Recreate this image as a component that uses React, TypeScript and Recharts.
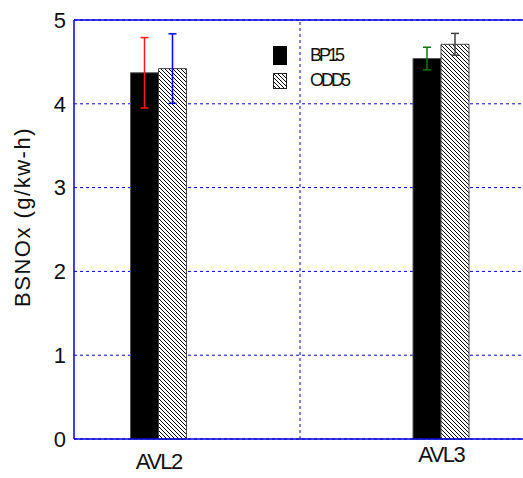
import React from 'react';
import { ComposedChart, XAxis, YAxis, Bar, ErrorBar, CartesianGrid, ReferenceLine, Legend } from 'recharts';

const categories = ['AVL2', 'AVL3'];
const bp15 = [4.37, 4.54];
const odd5 = [4.42, 4.71];
const bp15Err = [0.42, 0.135];
const odd5Err = [0.415, 0.13];
const yTicks = [0, 1, 2, 3, 4, 5];

const bp15ErrColors = ['#ff1a1a', '#0a7a0a'];
const odd5ErrColors = ['#0000ff', '#404040'];

const FONT = '"Liberation Sans", Arial, sans-serif';
const AXIS_BLUE = '#0000dd';

// one error key per category so each can get its own colour
const data = categories.map((name, i) => {
  const row: any = { x: i, name, bp15: bp15[i], odd5: odd5[i] };
  categories.forEach((_, j) => {
    row[`bpErr${j}`] = i === j ? bp15Err[i] : null;
    row[`oddErr${j}`] = i === j ? odd5Err[i] : null;
  });
  return row;
});

const XTick = (props: any) => {
  const { x, y, payload, index } = props;
  // AVL3 sits a bit higher than AVL2 in the original
  const dy = index === 0 ? 22 : 15;
  return (
    <text x={x} y={y + dy} textAnchor="middle" fontFamily={FONT} fontSize={22} letterSpacing={-1.5} fill="#111">
      {categories[payload.value]}
    </text>
  );
};

const LegendBox = () => (
  <div style={{ fontFamily: FONT }}>
    <div style={{ display: 'flex', alignItems: 'center', height: 25 }}>
      <svg width={14} height={19} style={{ display: 'block' }}>
        <rect x={0} y={0} width={14} height={19} fill="#000" />
      </svg>
      <span style={{ marginLeft: 23, fontSize: 18, letterSpacing: -3, color: '#111' }}>BP15</span>
    </div>
    <div style={{ display: 'flex', alignItems: 'center', height: 25 }}>
      <svg width={14} height={16} style={{ display: 'block' }}>
        <rect x={0.5} y={0.5} width={13} height={15} fill="url(#hatch)" stroke="#222" />
      </svg>
      <span style={{ marginLeft: 23, fontSize: 18, letterSpacing: -3, color: '#111' }}>ODD5</span>
    </div>
  </div>
);

const YLabel = () => (
  <text x={22} y={217} transform="rotate(-90 22 217)" textAnchor="middle" dominantBaseline="central"
    fontFamily={FONT} fontSize={22} letterSpacing={1.5} fill="#111">
    BSNOx (g/kw-h)
  </text>
);

export default function App() {
  return (
    <div style={{ position: 'absolute', left: 0, top: 0, width: 523, height: 478, overflow: 'hidden', background: '#fff' }}>
      <ComposedChart width={526} height={478} data={data} margin={{ top: 20, right: 0, bottom: 9, left: 0 }} barGap={0}>
        <defs>
          <pattern id="hatch" patternUnits="userSpaceOnUse" width={4} height={4}>
            <rect width={4} height={4} fill="#fff" />
            <path d="M0,0 L4,4 M-1,3 L1,5 M3,-1 L5,1" stroke="#000" strokeWidth={1} />
          </pattern>
        </defs>
        <CartesianGrid vertical={false} stroke={AXIS_BLUE} strokeDasharray="3 3" />
        <XAxis
          type="number"
          dataKey="x"
          domain={[-0.3, 1.3]}
          ticks={[0, 1]}
          tick={<XTick />}
          tickLine={false}
          axisLine={{ stroke: AXIS_BLUE, strokeWidth: 1.5 }}
          height={30}
          allowDecimals={false}
        />
        <YAxis
          type="number"
          domain={[0, 5]}
          ticks={yTicks}
          width={74}
          tickLine={false}
          axisLine={{ stroke: AXIS_BLUE, strokeWidth: 1.5 }}
          tick={{ fontFamily: FONT, fontSize: 22, fill: '#111' }}
          label={<YLabel />}
        />
        <ReferenceLine y={5} stroke={AXIS_BLUE} strokeWidth={1.5} />
        <ReferenceLine x={0.5} stroke={AXIS_BLUE} strokeDasharray="3 3" />
        <Legend
          layout="vertical"
          align="center"
          verticalAlign="middle"
          content={<LegendBox />}
          wrapperStyle={{ top: 43, left: 273, width: 100 }}
        />
        <Bar dataKey="bp15" barSize={28} fill="#000" stroke="#555" strokeWidth={1} isAnimationActive={false}>
          {categories.map((_, j) => (
            <ErrorBar key={`b${j}`} dataKey={`bpErr${j}`} stroke={bp15ErrColors[j]} strokeWidth={1.5} width={4} direction="y" />
          ))}
        </Bar>
        <Bar dataKey="odd5" barSize={28} fill="url(#hatch)" stroke="#444" strokeWidth={1} isAnimationActive={false}>
          {categories.map((_, j) => (
            <ErrorBar key={`o${j}`} dataKey={`oddErr${j}`} stroke={odd5ErrColors[j]} strokeWidth={1.5} width={4} direction="y" />
          ))}
        </Bar>
      </ComposedChart>
    </div>
  );
}
